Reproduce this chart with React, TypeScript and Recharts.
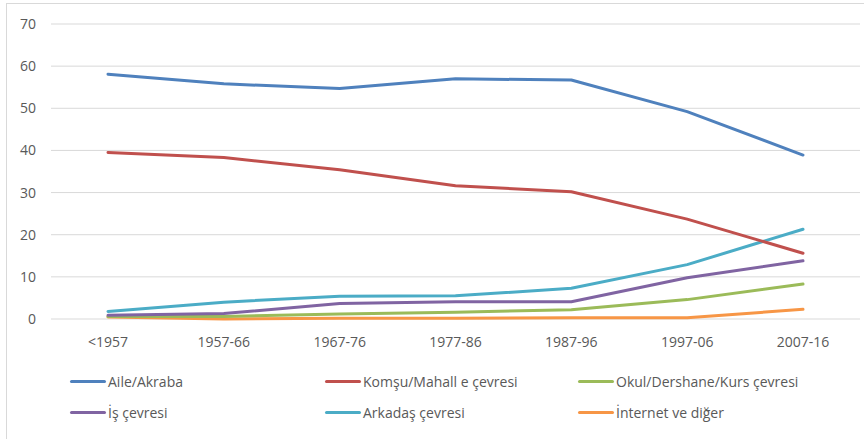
import { LineChart, Line, XAxis, YAxis, CartesianGrid } from "recharts"

const periods = ["<1957", "1957-66", "1967-76", "1977-86", "1987-96", "1997-06", "2007-16"]

const aileAkraba = [58.1, 55.8, 54.7, 57.0, 56.7, 49.2, 38.9]
const komsuMahalle = [39.5, 38.3, 35.4, 31.6, 30.2, 23.7, 15.6]
const okulDershane = [0.6, 0.6, 1.2, 1.6, 2.2, 4.6, 8.3]
const isCevresi = [0.9, 1.3, 3.7, 4.1, 4.1, 9.8, 13.8]
const arkadasCevresi = [1.8, 4.0, 5.4, 5.5, 7.3, 12.9, 21.3]
const internetDiger = [0.5, 0.0, 0.2, 0.2, 0.3, 0.3, 2.3]

const yTicks = [0, 10, 20, 30, 40, 50, 60, 70]

const series = [
  { key: "aile", name: "Aile/Akraba", color: "#4F81BD", values: aileAkraba },
  { key: "komsu", name: "Komşu/Mahall e çevresi", color: "#C0504D", values: komsuMahalle },
  { key: "okul", name: "Okul/Dershane/Kurs çevresi", color: "#9BBB59", values: okulDershane },
  { key: "is", name: "İş çevresi", color: "#8064A2", values: isCevresi },
  { key: "arkadas", name: "Arkadaş çevresi", color: "#4BACC6", values: arkadasCevresi },
  { key: "internet", name: "İnternet ve diğer", color: "#F79646", values: internetDiger },
]

const font = "'Open Sans', 'Noto Sans', sans-serif"
const textColor = "#595959"

// draw order: keep orange under the others, blue on top like the original
const drawOrder = ["internet", "okul", "is", "arkadas", "komsu", "aile"]

export default function App() {
  const data = periods.map((p, i) => {
    const row: Record<string, string | number> = { period: p }
    series.forEach((s) => {
      row[s.key] = s.values[i]
    })
    return row
  })

  const legendCols = [70, 325, 578]
  const legendRows = [381, 412]

  return (
    <div style={{ position: "absolute", left: 0, top: 0, width: 864, height: 439, background: "#fff", overflow: "hidden", fontFamily: font }}>
      <div style={{ position: "absolute", left: 6, top: 3, width: 900, height: 500, border: "1px solid #D9D9D9" }} />
      <div style={{ position: "absolute", left: 0, top: 0 }}>
        <LineChart width={864} height={439} data={data} margin={{ top: 24, right: 4, left: 0, bottom: 90 }}>
          <CartesianGrid horizontal vertical={false} stroke="#D9D9D9" strokeWidth={1} />
          <XAxis
            dataKey="period"
            axisLine={false}
            tickLine={false}
            tick={{ fill: textColor, fontSize: 14, fontFamily: font }}
            tickMargin={12}
            height={30}
            interval={0}
            padding={{ left: 57, right: 57 }}
          />
          <YAxis
            domain={[0, 70]}
            ticks={yTicks}
            axisLine={false}
            tickLine={false}
            width={51}
            tick={{ fill: textColor, fontSize: 14, fontFamily: font }}
            tickMargin={9}
          />
          {drawOrder.map((k) => {
            const s = series.find((x) => x.key === k)!
            return (
              <Line
                key={s.key}
                type="linear"
                dataKey={s.key}
                name={s.name}
                stroke={s.color}
                strokeWidth={3}
                strokeLinejoin="round"
                strokeLinecap="round"
                dot={false}
                isAnimationActive={false}
              />
            )
          })}
        </LineChart>
      </div>
      {series.map((s, i) => {
        const x = legendCols[i % 3]
        const y = legendRows[Math.floor(i / 3)]
        return (
          <div key={s.key} style={{ position: "absolute", left: x, top: y - 10, height: 20, display: "flex", alignItems: "center" }}>
            <div style={{ width: 36, height: 3, background: s.color, borderRadius: 2 }} />
            <span style={{ marginLeft: 2, fontSize: 14, color: textColor, whiteSpace: "nowrap" }}>{s.name}</span>
          </div>
        )
      })}
    </div>
  )
}
